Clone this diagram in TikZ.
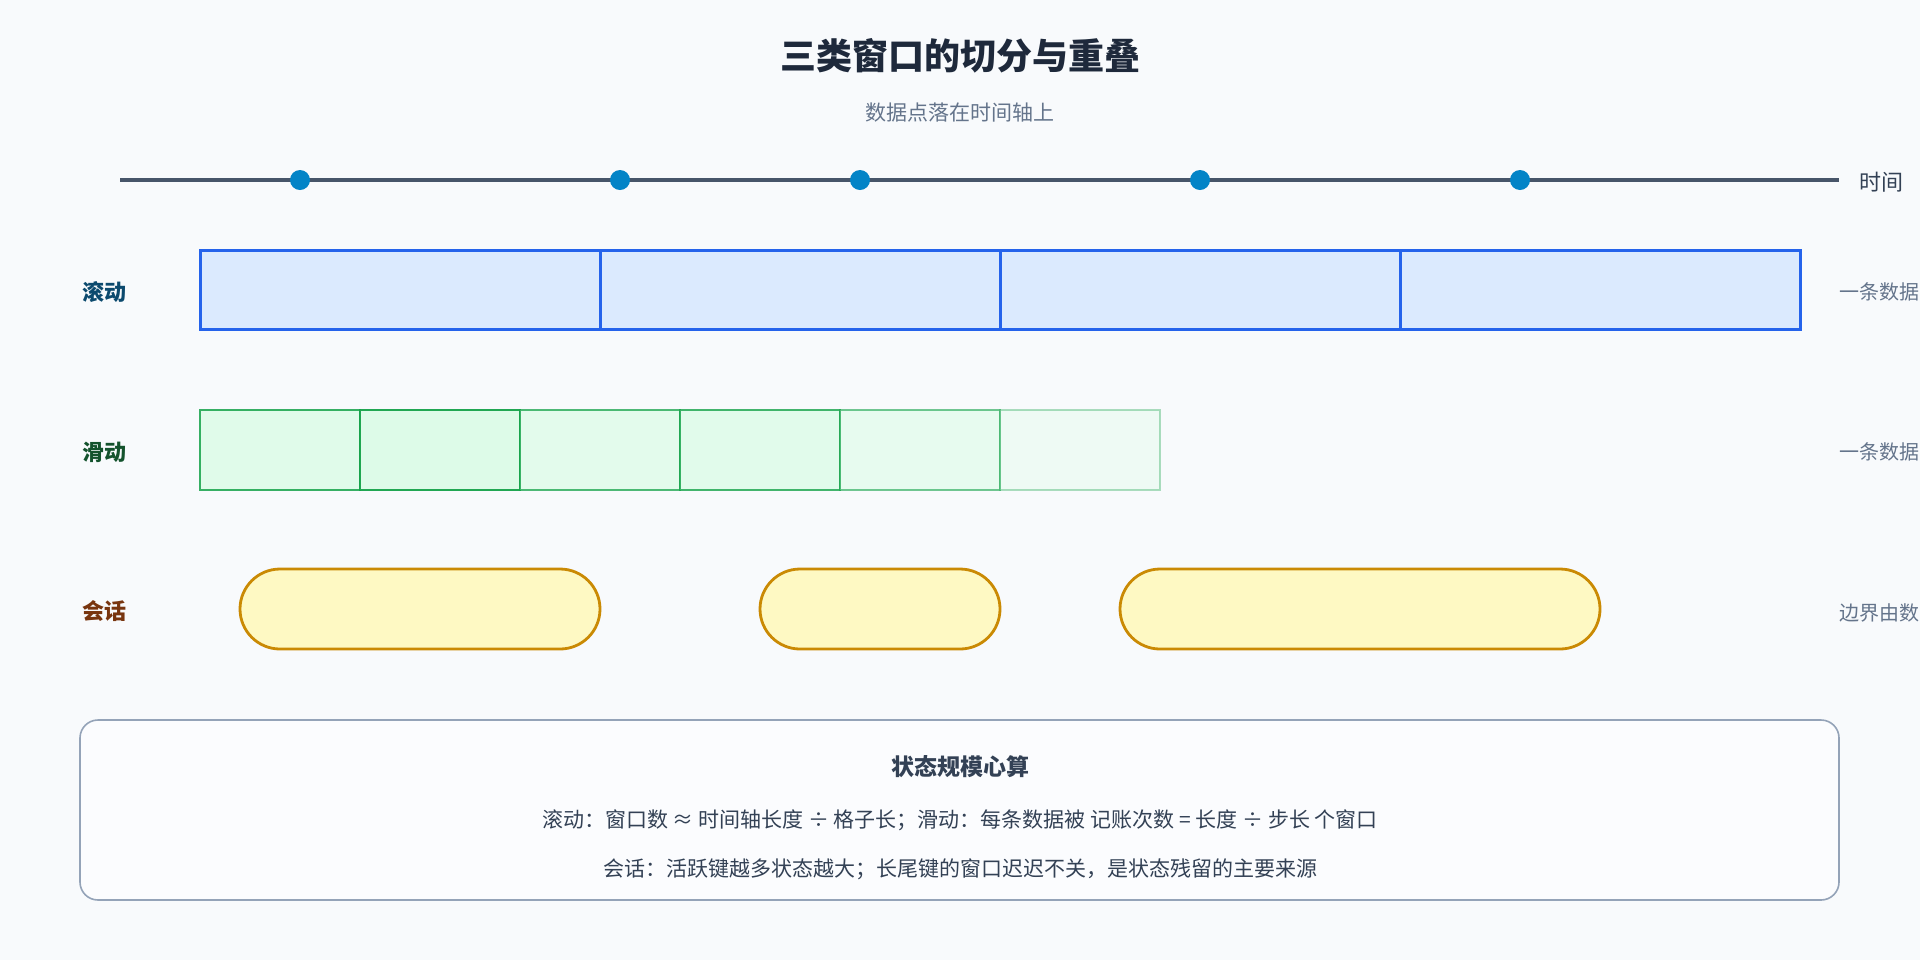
\documentclass[tikz,border=0pt]{standalone}
\usepackage{fontspec}
\setmainfont{Noto Sans CJK SC}
\begin{document}
\begin{tikzpicture}[x=0.5pt,y=-0.5pt,
  every node/.style={inner sep=0pt},
  lab/.style={font=\fontsize{11pt}{13pt}\selectfont\bfseries},
  side/.style={anchor=west,text=sidec,font=\fontsize{10pt}{12pt}\selectfont},
  tum/.style={draw=tumb,fill=tumf,line width=1.5pt},
  sli/.style={draw=slib,fill=slif,line width=1.4pt},
  ses/.style={draw=sesb,fill=sesf,line width=1.4pt,rounded corners=20pt},
  dot/.style={circle,fill=dotc,minimum size=10pt}]
\definecolor{bg}{HTML}{F8FAFC}
\definecolor{ttl}{HTML}{1E293B}
\definecolor{sub}{HTML}{64748B}
\definecolor{axis}{HTML}{475569}
\definecolor{dotc}{HTML}{0284C7}
\definecolor{tumb}{HTML}{2563EB}
\definecolor{tumf}{HTML}{DBEAFE}
\definecolor{slib}{HTML}{16A34A}
\definecolor{slif}{HTML}{DCFCE7}
\definecolor{sesb}{HTML}{CA8A04}
\definecolor{sesf}{HTML}{FEF9C3}
\definecolor{sidec}{HTML}{64748B}
\definecolor{boxb}{HTML}{94A3B8}
\definecolor{txt}{HTML}{334155}
\definecolor{ltc}{HTML}{0C4A6E}
\definecolor{lsc}{HTML}{14532D}
\definecolor{lec}{HTML}{78350F}
\useasboundingbox (0,0) rectangle (1920,960);
\clip (0,0) rectangle (1920,960);
\fill[bg] (0,0) rectangle (1920,960);
\node[text=ttl,font=\fontsize{18pt}{21pt}\selectfont\bfseries] (title) at (960,56) {三类窗口的切分与重叠};
\node[text=sub,font=\fontsize{10.5pt}{12pt}\selectfont] (subtitle) at (960,113) {数据点落在时间轴上};
\coordinate (a0) at (120,180);
\coordinate (a1) at (1839,180);
\draw[axis,line width=1.6pt] (a0) -- (a1);
\node[anchor=west,text=txt,font=\fontsize{11pt}{13pt}\selectfont] (time) at (1859,182) {时间};
\foreach \x/\n in {300/d1,620/d2,860/d3,1200/d4,1520/d5}
  \node[dot] (\n) at (\x,180) {};
% tumbling
\node[lab,text=ltc] (ltum) at (104,292) {滚动};
\foreach \i in {0,1,2,3}
  \draw[tum] ({200+400*\i},250) rectangle ({600+400*\i},329);
\node[side] (stum) at (1839,292) {一条数据};
% sliding
\node[lab,text=lsc] (lsli) at (104,452) {滑动};
\foreach \i/\o in {0/0.85,1/0.95,2/0.75,3/0.8,4/0.6,5/0.35}
  \draw[sli,opacity=\o] ({200+160*\i},410) rectangle ({360+160*\i},490);
\node[side] (ssli) at (1839,452) {一条数据};
% session
\node[lab,text=lec] (lses) at (104,611) {会话};
\draw[ses] (240,569) rectangle (600,649);
\draw[ses] (760,569) rectangle (1000,649);
\draw[ses] (1120,569) rectangle (1600,649);
\node[side] (sses) at (1839,613) {边界由数};
% summary box
\draw[draw=boxb,fill=bg!50!white,line width=0.8pt,rounded corners=9pt] (80,720) rectangle (1839,900);
\node[text=txt,font=\fontsize{11.5pt}{13pt}\selectfont\bfseries] (bt) at (960,767) {状态规模心算};
\node[text=txt,font=\fontsize{10.5pt}{12pt}\selectfont] (l1) at (960,820) {滚动：窗口数 ≈ 时间轴长度 ÷ 格子长；滑动：每条数据被 记账次数 = 长度 ÷ 步长 个窗口};
\node[text=txt,font=\fontsize{10.5pt}{12pt}\selectfont] (l2) at (960,869) {会话：活跃键越多状态越大；长尾键的窗口迟迟不关，是状态残留的主要来源};
\end{tikzpicture}
\end{document}
